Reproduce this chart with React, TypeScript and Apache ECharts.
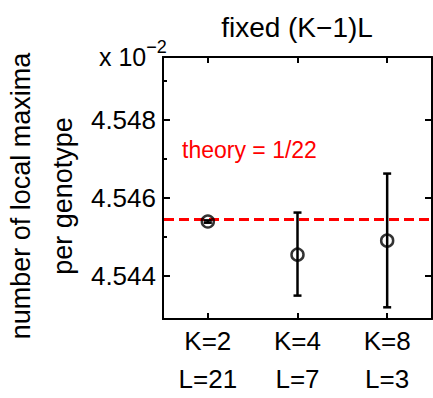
import React, { useEffect, useRef } from "react";
import * as echarts from "echarts";

const kLabels = ["K=2", "K=4", "K=8"];
const lLabels = ["L=21", "L=7", "L=3"];
const means = [4.5454, 4.54455, 4.54491];
const lower = [4.54537, 4.5435, 4.5432];
const upper = [4.54543, 4.54563, 4.54663];
const theory = 100 / 22;
const majorTicks = [4.544, 4.546, 4.548];
const minorTicks = [4.545, 4.547, 4.549];
const yMin = 4.5429;
const yMax = 4.54962;

const FONT = '"Liberation Sans", Arial, Helvetica, sans-serif';

export default function App() {
  const ref = useRef<HTMLDivElement>(null);
  useEffect(() => {
    if (!ref.current) return;
    const chart = echarts.init(ref.current, null, { renderer: "svg" });
    const categories = kLabels.map((k, i) => k + "\n" + lLabels[i]);
    const axisLine = { show: true, lineStyle: { color: "#000", width: 2 } };
    chart.setOption({
      animation: false,
      backgroundColor: "#fff",
      grid: { left: 163, right: 1, top: 57, bottom: 72 },
      xAxis: [
        {
          type: "category",
          data: categories,
          position: "bottom",
          boundaryGap: true,
          axisLine,
          axisTick: { show: true, inside: true, length: 6, alignWithLabel: true, lineStyle: { color: "#000", width: 2 } },
          axisLabel: { color: "#000", fontSize: 26, fontFamily: FONT, lineHeight: 38, margin: 3 },
          splitLine: { show: false },
        },
        {
          type: "category",
          data: categories,
          position: "top",
          boundaryGap: true,
          axisLine,
          axisTick: { show: true, inside: true, length: 6, alignWithLabel: true, lineStyle: { color: "#000", width: 2 } },
          axisLabel: { show: false },
          splitLine: { show: false },
        },
      ],
      yAxis: [
        {
          type: "value",
          min: yMin,
          max: yMax,
          position: "left",
          axisLine,
          axisTick: { show: true, inside: true, length: 7, customValues: majorTicks, lineStyle: { color: "#000", width: 2 } },
          axisLabel: {
            customValues: majorTicks,
            formatter: (v: number) => v.toFixed(3),
            color: "#000",
            fontSize: 26,
            fontFamily: FONT,
            margin: 7,
          },
          splitLine: { show: false },
        },
        {
          type: "value",
          min: yMin,
          max: yMax,
          position: "left",
          axisLine,
          axisTick: { show: true, inside: true, length: 4, customValues: minorTicks, lineStyle: { color: "#000", width: 2 } },
          axisLabel: { show: false },
          splitLine: { show: false },
        },
        {
          type: "value",
          min: yMin,
          max: yMax,
          position: "right",
          axisLine,
          axisTick: { show: true, inside: true, length: 7, customValues: majorTicks, lineStyle: { color: "#000", width: 2 } },
          axisLabel: { show: false },
          splitLine: { show: false },
        },
      ],
      series: [
        {
          type: "custom",
          data: [[0, theory]],
          renderItem: (params: any, api: any) => {
            const y = api.coord([api.value(0), api.value(1)])[1];
            const cs = params.coordSys;
            return {
              type: "line",
              shape: { x1: cs.x + 1, y1: y, x2: cs.x + cs.width - 1, y2: y },
              style: { stroke: "#ff0000", lineWidth: 3, lineDash: [10, 5] },
            };
          },
          z: 2,
        },
        {
          type: "custom",
          data: categories.map((_, i) => [i, lower[i], upper[i]]),
          renderItem: (params: any, api: any) => {
            const x = api.value(0);
            const lo = api.coord([x, api.value(1)]);
            const hi = api.coord([x, api.value(2)]);
            const cap = 4;
            const style = { stroke: "#000", lineWidth: 2.5 };
            return {
              type: "group",
              children: [
                { type: "line", shape: { x1: lo[0], y1: lo[1], x2: hi[0], y2: hi[1] }, style },
                { type: "line", shape: { x1: lo[0] - cap, y1: lo[1], x2: lo[0] + cap, y2: lo[1] }, style },
                { type: "line", shape: { x1: hi[0] - cap, y1: hi[1], x2: hi[0] + cap, y2: hi[1] }, style },
              ],
            };
          },
          z: 3,
        },
        {
          type: "scatter",
          data: categories.map((_, i) => [i, means[i]]),
          symbol: "circle",
          symbolSize: 12,
          itemStyle: { color: "rgba(0,0,0,0)", borderColor: "#000", borderWidth: 2.5 },
          z: 4,
        },
      ],
      graphic: [
        {
          type: "text",
          x: 297,
          y: 27,
          style: { text: "fixed (K\u22121)L", font: `28px ${FONT}`, fill: "#000", align: "center", verticalAlign: "middle" },
        },
        {
          type: "text",
          x: 42,
          y: 196,
          rotation: Math.PI / 2,
          style: {
            text: "number of local maxima\nper genotype",
            font: `27px ${FONT}`,
            fill: "#000",
            align: "center",
            verticalAlign: "middle",
            lineHeight: 42,
          },
        },
        {
          type: "text",
          x: 99,
          y: 38,
          style: {
            text: "{a|x 10}{b|\u22122}",
            fill: "#000",
            rich: {
              a: { font: `25px ${FONT}`, fill: "#000", verticalAlign: "bottom" },
              b: { font: `18px ${FONT}`, fill: "#000", padding: [0, 0, 13, 0] },
            },
          },
        },
        {
          type: "text",
          x: 182,
          y: 150,
          style: { text: "theory = 1/22", font: `23px ${FONT}`, fill: "#ff0000", verticalAlign: "middle" },
        },
      ],
    });
    return () => chart.dispose();
  }, []);
  return <div ref={ref} style={{ width: 433, height: 398, position: "absolute", left: 0, top: 0 }} />;
}
